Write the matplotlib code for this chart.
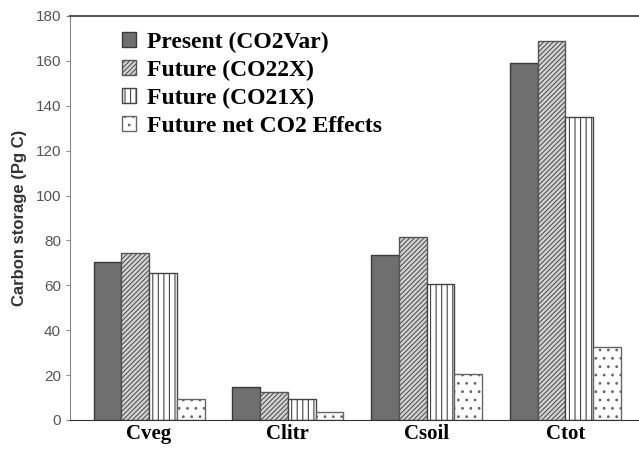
import numpy as np
import matplotlib.pyplot as plt

plt.rcParams['hatch.linewidth'] = 0.8

# Carbon storage (Pg C) per pool
pools = ['Cveg', 'Clitr', 'Csoil', 'Ctot']
present = [70.5, 14.6, 73.5, 159.0]
future_2x = [74.3, 12.6, 81.7, 169.0]
future_1x = [65.3, 9.3, 60.6, 135.2]
net_co2 = [9.3, 3.5, 20.3, 32.7]

labels = ['Present (CO2Var)', 'Future (CO22X)', 'Future (CO21X)',
          'Future net CO2 Effects']

fig = plt.figure(figsize=(6.39, 4.49), dpi=100)
ax = fig.add_axes([0.1095, 0.0646, 0.8905, 0.8998])

x = np.arange(len(pools))
w = 0.2
series = [present, future_2x, future_1x, net_co2]
faces = ['#6f6f6f', '#d4d4d4', 'white', 'white']
hatches = [None, '///////', '|||', '..']
edges = ['#3a3a3a', '#555555', '#444444', '#666666']

for i, vals in enumerate(series):
    ax.bar(x + (i - 1.5) * w, vals, w, color=faces[i], hatch=hatches[i],
           edgecolor=edges[i], linewidth=1.0, label=labels[i])

ax.set_xlim(-0.57, 3.53)
ax.set_ylim(0, 180)
ax.set_yticks(np.arange(0, 181, 20))
ax.set_xticks(x)
ax.set_xticklabels(pools, fontfamily='Liberation Serif', fontweight='bold',
                   fontsize=15)
ax.tick_params(axis='x', length=0, pad=3)
ax.tick_params(axis='y', labelsize=11, labelcolor='#555555', color='#888888',
               length=3, direction='out')
for lab in ax.get_yticklabels():
    lab.set_fontfamily('Liberation Sans')

ax.set_ylabel('Carbon storage (Pg C)', fontfamily='Liberation Sans',
              fontweight='bold', fontsize=12, color='#333333', labelpad=6)

ax.spines['right'].set_visible(False)
ax.spines['top'].set_color('#555555')
ax.spines['top'].set_linewidth(1.5)
ax.spines['left'].set_color('#888888')
ax.spines['bottom'].set_color('#333333')

leg = ax.legend(loc='upper left', bbox_to_anchor=(0.075, 0.985), frameon=False,
                prop={'family': 'Liberation Serif', 'weight': 'bold', 'size': 17},
                handlelength=0.6, handleheight=0.6, handletextpad=0.45,
                labelspacing=0.3, borderaxespad=0)

fig.savefig('out.png', dpi=100)
